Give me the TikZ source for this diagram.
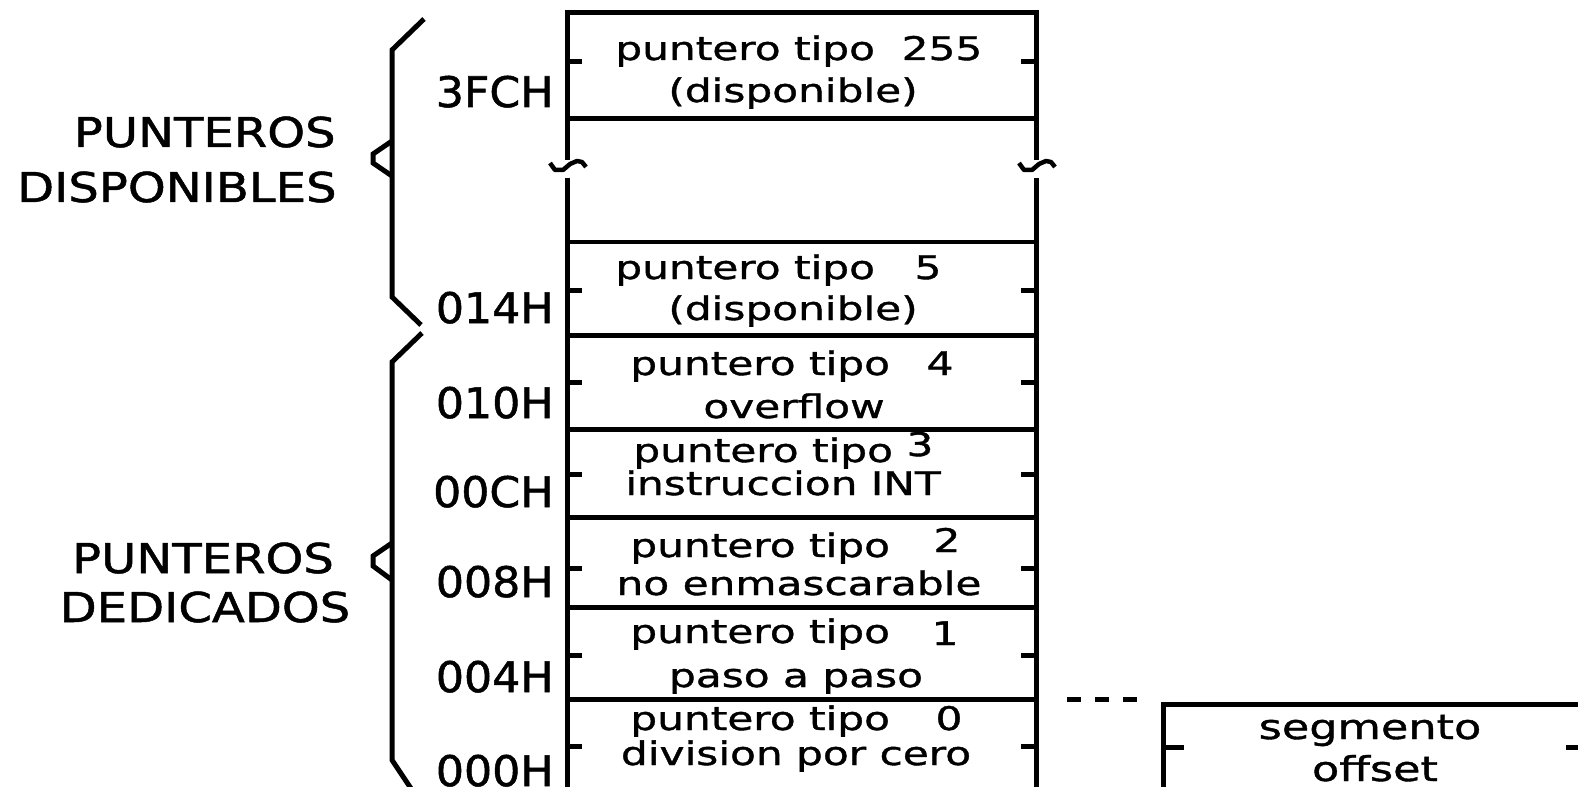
\documentclass[tikz,border=0pt]{standalone}
\usepackage{fontspec}
\newfontfamily\cellfont[FakeStretch=1.3,FakeBold=1.2]{DejaVu Sans}
\newfontfamily\adrfont[FakeStretch=1.05,FakeBold=1.2]{DejaVu Sans}
\newfontfamily\groupfont[FakeStretch=1.17,FakeBold=1.2]{DejaVu Sans}

\begin{document}
\begin{tikzpicture}[x=0.02cm,y=-0.02cm,
  memline/.style={line width=0.1cm},
  celltxt/.style={font=\cellfont\fontsize{18.5}{18.5}\selectfont,inner sep=0pt,anchor=base},
  segtxt/.style={font=\cellfont\fontsize{19.5}{19.5}\selectfont,inner sep=0pt,anchor=base},
  adrtxt/.style={font=\adrfont\fontsize{24}{24}\selectfont,inner sep=0pt,anchor=base east},
  grptxt/.style={font=\groupfont\fontsize{23.4}{24}\selectfont,inner sep=0pt,anchor=base}]
\useasboundingbox (0,0) rectangle (1578,787);
% tabla de punteros
\draw[memline] (567,160)--(567,13)--(1036,13)--(1036,160);
\draw[memline] (567,178)--(567,800) (1036,178)--(1036,800);
\foreach \y in {119,242,335,429,517,607,699}{\draw[memline](567,\y)--(1036,\y);}
\foreach \y in {62,290,382,474,568,655,746}{\draw[memline](567,\y)--(582,\y) (1036,\y)--(1021,\y);}
% corte de la tabla
\foreach \x in {567,1036}{\draw[line width=0.09cm,line join=round](\x-17,163)--(\x-12,170)--(\x-4,170)--(\x+3,164)--(\x+10,161)--(\x+15,162)--(\x+19,167);}
% textos de cada puntero
\foreach \px/\yp/\num/\nx/\yn/\sub/\xs/\ys/\adr/\ya [count=\i] in {
  615/60/255/942/60/{(disponible)}/793/102/3FCH/107,
  615/279/5/928/279/{(disponible)}/793/320/014H/323,
  630/375/4/940/375/overflow/794/418/010H/418,
  633/462/3/920/456/{instruccion INT}/783/495/00CH/507,
  630/557/2/947/552/{no enmascarable}/799/595/008H/597,
  630/643/1/945/645/{paso a paso}/796/687/004H/692,
  630/730/0/949/730/{division por cero}/796/765/000H/786}{
  \node[celltxt,anchor=base west] (tipo\i) at (\px,\yp) {puntero tipo};
  \node[celltxt] (num\i) at (\nx,\yn) {\num};
  \node[celltxt] (sub\i) at (\xs,\ys) {\sub};
  \node[adrtxt] (adr\i) at (554,\ya) {\adr};
}
% llaves
\draw[memline] (424,19)--(392,50)--(392,297)--(421,325);
\draw[memline] (392,141)--(373,154)--(373,163)--(392,176);
\draw[memline] (422,333)--(392,362)--(392,760)--(416,796);
\draw[memline] (392,543)--(373,556)--(373,566)--(392,580);
\node[grptxt,anchor=base east] (dispA) at (336,147) {PUNTEROS};
\node[grptxt,anchor=base east] (dispB) at (337,202) {DISPONIBLES};
\node[grptxt] (dedA) at (203,573) {PUNTEROS};
\node[grptxt] (dedB) at (205,622) {DEDICADOS};
% vector segmento:offset
\coordinate (dashA) at (1067,699);
\coordinate (dashB) at (1137,699);
\draw[memline,dash pattern=on 0.28cm off 0.28cm] (dashA)--(dashB);
\draw[memline] (1163,800)--(1163,704)--(1590,704)--(1590,800);
\draw[memline] (1163,747)--(1184,747) (1590,747)--(1566,747);
\node[segtxt] (seg) at (1370,739) {segmento};
\node[segtxt] (off) at (1375,781) {offset};
\end{tikzpicture}
\end{document}
